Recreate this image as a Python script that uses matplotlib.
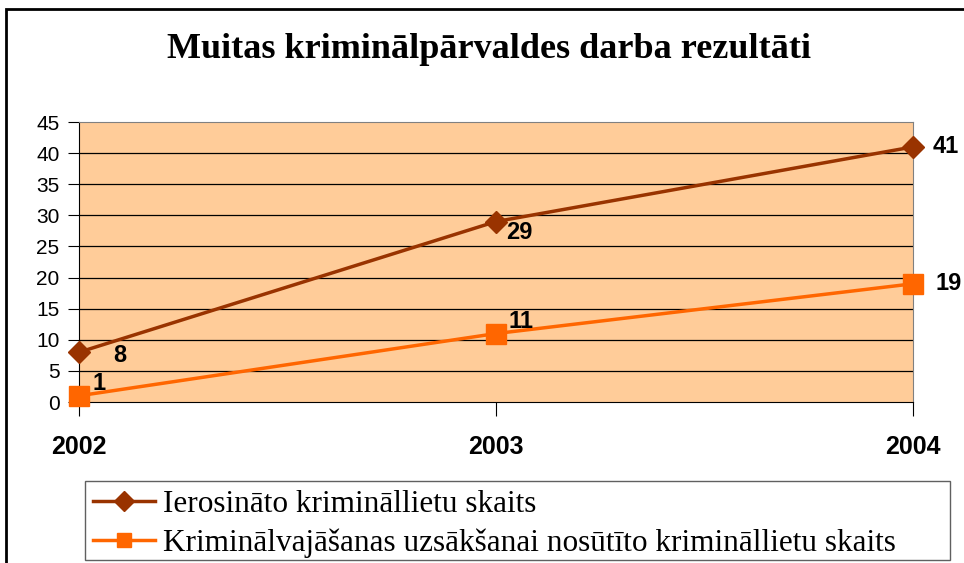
import matplotlib.pyplot as plt
from matplotlib.patches import Rectangle

years = ["2002", "2003", "2004"]
ierosinato = [8, 29, 41]
nosutito = [1, 11, 19]
series_names = ["Ierosināto krimināllietu skaits",
                "Kriminālvajāšanas uzsākšanai nosūtīto krimināllietu skaits"]
title = "Muitas kriminālpārvaldes darba rezultāti"

W, H = 964, 563
fig = plt.figure(figsize=(W / 100, H / 100), dpi=100)

# outer chart frame (only left and top edges show)
fig.patches.append(Rectangle((6 / W, -0.05), 1.1, 1 - 9 / H + 0.05,
                             transform=fig.transFigure, fill=False,
                             edgecolor="black", linewidth=2))

ax = fig.add_axes([79 / W, 1 - 402 / H, (913 - 79) / W, (402 - 122) / H])
ax.set_facecolor("#FFCC99")
x = list(range(len(years)))

ax.plot(x, ierosinato, color="#993300", marker="D", markersize=11,
        linewidth=2.5, label=series_names[0], clip_on=False, zorder=3)
ax.plot(x, nosutito, color="#FF6600", marker="s", markersize=14,
        linewidth=2.5, label=series_names[1], clip_on=False, zorder=3)

ax.set_xlim(0, 2)
ax.set_ylim(0, 45)
ax.set_yticks(range(0, 46, 5))
for y in range(5, 45, 5):
    ax.axhline(y, color="black", linewidth=0.9, zorder=1)

ax.set_xticks(x)
ax.set_xticklabels(years, fontsize=18, fontweight="bold", family="Liberation Sans")
ax.tick_params(axis="x", length=10, pad=14, color="black")
ax.tick_params(axis="y", length=8, pad=6, labelsize=15, color="black")
for lbl in ax.get_yticklabels():
    lbl.set_family("Liberation Sans")

for s in ["top", "right"]:
    ax.spines[s].set_color("#808080")
for s in ["left", "bottom"]:
    ax.spines[s].set_color("black")

lab_kw = dict(fontsize=17, fontweight="bold", family="Liberation Sans",
              textcoords="offset points", annotation_clip=False,
              ha="left", va="center")
offs1 = [(25, -2), (7, -8), (14, 0)]
offs2 = [(10, 9), (9, 9), (16, 0)]
for i, v in enumerate(ierosinato):
    ax.annotate(str(v), (x[i], v), xytext=offs1[i], **lab_kw)
for i, v in enumerate(nosutito):
    ax.annotate(str(v), (x[i], v), xytext=offs2[i], **lab_kw)

fig.text(489 / W, 1 - 50 / H, title, ha="center", va="center",
         fontsize=26, fontweight="bold", family="Liberation Serif")

# legend box, wider than its text as in the original
fig.patches.append(Rectangle((85 / W, 1 - 560 / H), (950 - 85) / W, 79 / H,
                             transform=fig.transFigure, fill=False,
                             edgecolor="#606060", linewidth=1))
leg = fig.legend(loc="upper left", bbox_to_anchor=(88 / W, 1 - 485 / H),
                 prop={"family": "Liberation Serif", "size": 22.5},
                 frameon=False, handlelength=2.0, borderpad=0.15,
                 labelspacing=0.3, handletextpad=0.25, borderaxespad=0)
for h in leg.legend_handles:
    h.set_markersize(10)

fig.savefig("out.png", dpi=100)
